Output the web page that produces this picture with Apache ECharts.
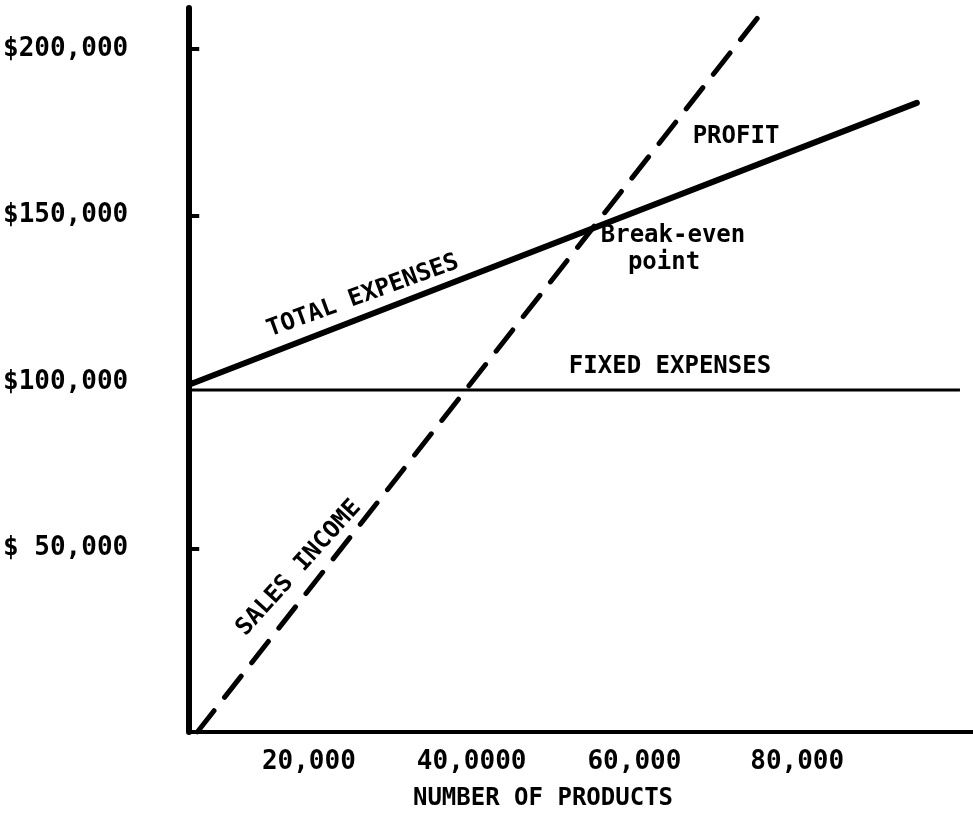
<!DOCTYPE html>
<html>
<head>
<meta charset="utf-8">
<script src="https://cdn.jsdelivr.net/npm/echarts@6/dist/echarts.min.js"></script>
<style>html,body{margin:0;padding:0;background:#fff}#c{width:973px;height:813px}</style>
</head>
<body>
<div id="c"></div>
<script>
// ---- data ----
const xTickValues = [20000, 40000, 60000, 80000];
const xTickLabels = ['20,000', '40,0000', '60,000', '80,000'];
const yTickValues = [50000, 100000, 150000, 200000];
const yTickLabels = ['$ 50,000', '$100,000', '$150,000', '$200,000'];

const salesIncome   = [[6300, -5100], [75700, 211100]];
const totalExpenses = [[5500, 99400], [94700, 183800]];
const fixedExpenses = [[5300, 97600], [100000, 97600]];

const xRange = [5300, 101600];
const yRange = [-5100, 212300];

const FONT = '"DejaVu Sans Mono", "Liberation Mono", monospace';

const chart = echarts.init(document.getElementById('c'), null, {renderer: 'canvas'});

function txt(text, x, y, deg, size) {
  return {
    type: 'text', x: x, y: y, rotation: (deg || 0) * Math.PI / 180,
    style: {text: text, x: 0, y: 0, align: 'center', verticalAlign: 'middle',
            fill: '#000', font: 'bold ' + (size || 24) + 'px ' + FONT}
  };
}

chart.setOption({
  animation: false,
  backgroundColor: '#fff',
  grid: {left: 188, right: 0, top: 8, bottom: 81, containLabel: false},
  xAxis: {
    type: 'value', min: xRange[0], max: xRange[1],
    axisLine: {onZero: false, lineStyle: {color: '#000', width: 4}},
    axisTick: {show: false},
    splitLine: {show: false},
    axisLabel: {
      customValues: xTickValues,
      formatter: v => xTickLabels[xTickValues.indexOf(v)] || '',
      color: '#000', fontFamily: FONT, fontWeight: 'bold', fontSize: 26, margin: 17
    }
  },
  yAxis: {
    type: 'value', min: yRange[0], max: yRange[1],
    axisLine: {show: true, onZero: false, lineStyle: {color: '#000', width: 6}},
    axisTick: {show: true, inside: true, length: 10, customValues: yTickValues, lineStyle: {color: '#000', width: 4}},
    splitLine: {show: false},
    axisLabel: {
      customValues: yTickValues,
      formatter: v => yTickLabels[yTickValues.indexOf(v)] || '',
      color: '#000', fontFamily: FONT, fontWeight: 'bold', fontSize: 26, margin: 61, align: 'right'
    }
  },
  series: [
    {name: 'Fixed expenses', type: 'line', data: fixedExpenses, symbol: 'none',
     lineStyle: {color: '#000', width: 3}},
    {name: 'Total expenses', type: 'line', data: totalExpenses, symbol: 'none',
     lineStyle: {color: '#000', width: 6, cap: 'round'}},
    {name: 'Sales income', type: 'line', data: salesIncome, symbol: 'none',
     lineStyle: {color: '#000', width: 5, type: [27, 17], cap: 'round'}}
  ],
  graphic: [
    txt('TOTAL EXPENSES', 363, 296, 20),
    txt('SALES INCOME', 299, 568, 48),
    txt('FIXED EXPENSES', 670, 367, 0),
    txt('PROFIT', 736, 137, 0),
    txt('Break-even', 673, 236, 0),
    txt('point', 664, 263, 0),
    txt('NUMBER OF PRODUCTS', 543, 799, 0)
  ]
});
</script>
</body>
</html>
